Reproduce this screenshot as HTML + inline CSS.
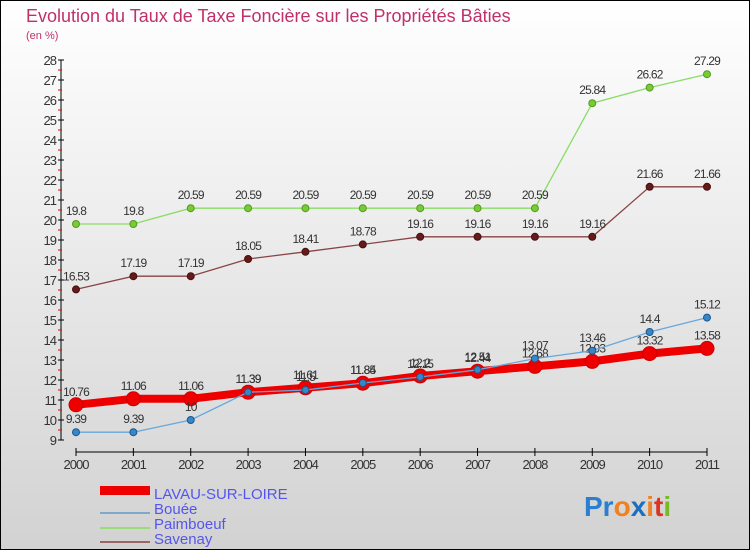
<!DOCTYPE html>
<html><head><meta charset="utf-8"><style>
body{margin:0}
#c{width:750px;height:550px;position:relative;overflow:hidden;font-family:"Liberation Sans",sans-serif}
</style></head><body>
<div id="c">
<svg id="s" width="750" height="550" xmlns="http://www.w3.org/2000/svg">
<defs><linearGradient id="bg" x1="0" y1="0" x2="0" y2="1"><stop offset="0" stop-color="#ffffff"/><stop offset="1" stop-color="#d2d2d2"/></linearGradient></defs>
<rect x="0.5" y="0.5" width="749" height="549" fill="url(#bg)" stroke="#000"/>
<text x="26" y="22" font-size="18" fill="#c0306a" font-weight="300">Evolution du Taux de Taxe Foncière sur les Propriétés Bâties</text>
<text x="26" y="39" font-size="11" fill="#c0306a">(en %)</text>
<g id="axes"></g><g id="series"></g>
<g>
<rect x="100" y="486" width="50" height="9" fill="#e00"/>
<text x="154" y="499" font-size="15" fill="#5555ee">LAVAU-SUR-LOIRE</text>
<line x1="100" y1="513" x2="150" y2="513" stroke="#7fa8cc" stroke-width="2"/>
<text x="154" y="514" font-size="15" fill="#5555ee">Bouée</text>
<line x1="100" y1="528" x2="150" y2="528" stroke="#99dd77" stroke-width="2"/>
<text x="154" y="529" font-size="15" fill="#5555ee">Paimboeuf</text>
<line x1="100" y1="542" x2="150" y2="542" stroke="#996666" stroke-width="2"/>
<text x="154" y="544" font-size="15" fill="#5555ee">Savenay</text>
</g>
<text x="584" y="516" font-size="28" font-weight="bold"><tspan fill="#2a7fd0">Pr</tspan><tspan fill="#f08020">o</tspan><tspan fill="#1a6fc0">x</tspan><tspan fill="#f08020">i</tspan><tspan fill="#dd3322">t</tspan><tspan fill="#77bb22">i</tspan></text>
</svg></div>
<script>
const years=["2000","2001","2002","2003","2004","2005","2006","2007","2008","2009","2010","2011"];
const yTicks=[9,10,11,12,13,14,15,16,17,18,19,20,21,22,23,24,25,26,27,28];
const lavau=[10.76,11.06,11.06,11.39,11.61,11.84,12.2,12.44,12.68,12.93,13.32,13.58];
const bouee=[9.39,9.39,10,11.39,11.5,11.85,12.15,12.51,13.07,13.46,14.4,15.12];
const paimboeuf=[19.8,19.8,20.59,20.59,20.59,20.59,20.59,20.59,20.59,25.84,26.62,27.29];
const savenay=[16.53,17.19,17.19,18.05,18.41,18.78,19.16,19.16,19.16,19.16,21.66,21.66];
const NS="http://www.w3.org/2000/svg";
const x=i=>76+i*(707-76)/11;
const y=v=>440-(v-9)*20;
function mk(p,t,a){const e=document.createElementNS(NS,t);for(const k in a)e.setAttribute(k,a[k]);p.appendChild(e);return e;}
const ax=document.getElementById('axes');
let l=mk(ax,'line',{x1:61,y1:y(28),x2:61,y2:y(9),stroke:'#000'});


yTicks.forEach((v,k)=>{
 const t=mk(ax,'line',{x1:58,x2:64,y1:y(v),y2:y(v),stroke:'#000'});
 
 
 if(k<yTicks.length-1){
  const m=mk(ax,'line',{x1:58,x2:62,y1:y(v)-10,y2:y(v)-10,stroke:'#e00'});
  
  
 }
 const tx=mk(ax,'text',{x:56,y:y(v)+5,'font-size':13,'text-anchor':'end',fill:'#333','letter-spacing':'-1'});
 tx.textContent=v;
 
 
});
l=mk(ax,'line',{x1:76,x2:707,y1:452,y2:452,stroke:'#000'});


years.forEach((yr,i)=>{
 const t=mk(ax,'line',{x1:x(i),x2:x(i),y1:448,y2:456,stroke:'#000'});
 
 
 const tx=mk(ax,'text',{x:x(i),y:469,'font-size':13,'text-anchor':'middle',fill:'#333','letter-spacing':'-1'});
 tx.textContent=yr;
 
 
});
const sg=document.getElementById('series');
function series(name,data,col,w,r,dot,stroke){
 const g=mk(sg,'g',{});
 
 
 const pl=mk(g,'polyline',{points:data.map((v,i)=>x(i)+','+y(v)).join(' '),fill:'none',stroke:col,'stroke-width':w});
 
 
 data.forEach((v,i)=>{
  const c=mk(g,'circle',{cx:x(i),cy:y(v),r:r,fill:dot,stroke:stroke,'stroke-width':1});
  
  
  const t=mk(g,'text',{x:x(i),y:y(v)-9,'font-size':12,'text-anchor':'middle',fill:'#333','letter-spacing':'-0.8'});
  t.textContent=v;
  
  
 });
}
series('paimboeuf',paimboeuf,'#88dd66',1.3,3.5,'#77cc33','#559922');
series('savenay',savenay,'#884444',1.3,3.5,'#661a1a','#441111');
series('lavau',lavau,'#ee0000',8,7,'#ee0000','#cc0000');
series('bouee',bouee,'#66a8dd',1.3,3.5,'#3388cc','#225588');
</script>
</body></html>
